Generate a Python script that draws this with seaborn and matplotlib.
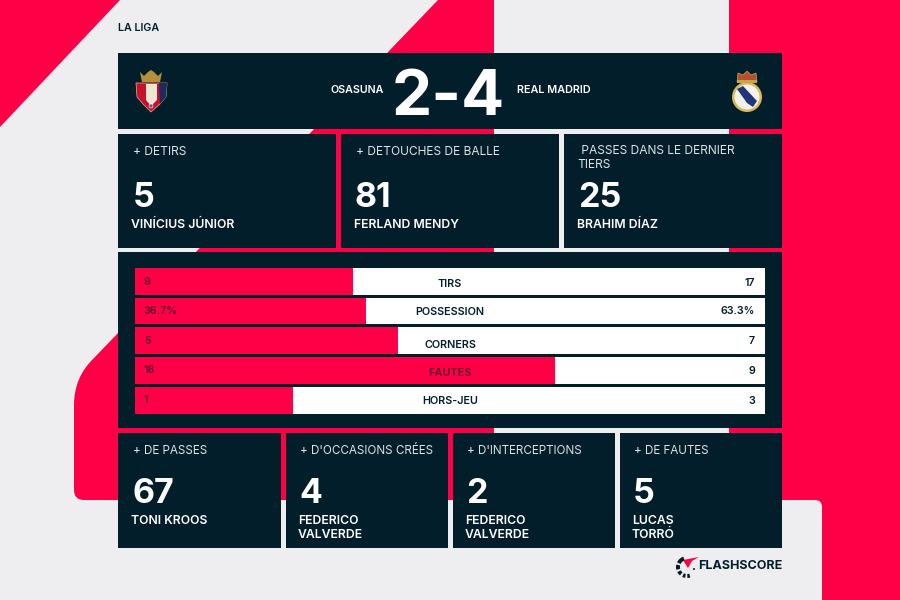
import matplotlib
matplotlib.use("Agg")
import matplotlib.pyplot as plt
import seaborn as sns
import pandas as pd
from matplotlib.patches import Rectangle, PathPatch, Polygon, Circle, Wedge
from matplotlib.path import Path

# ---------- data ----------
competition = "LA LIGA"
home_team = "OSASUNA"
away_team = "REAL MADRID"
score = "2-4"
stat_names = ["TIRS", "POSSESSION", "CORNERS", "FAUTES", "HORS-JEU"]
home_values = [9, 36.7, 5, 18, 1]
away_values = [17, 63.3, 7, 9, 3]
home_labels = ["9", "36.7%", "5", "18", "1"]
away_labels = ["17", "63.3%", "7", "9", "3"]
top_titles = ["+ DETIRS", "+ DETOUCHES DE BALLE", " PASSES DANS LE DERNIER\nTIERS"]
top_numbers = ["5", "81", "25"]
top_players = ["VINÍCIUS JÚNIOR", "FERLAND MENDY", "BRAHIM DÍAZ"]
bottom_titles = ["+ DE PASSES", "+ D'OCCASIONS CRÉES", "+ D'INTERCEPTIONS", "+ DE FAUTES"]
bottom_numbers = ["67", "4", "2", "5"]
bottom_players = ["TONI KROOS", "FEDERICO\nVALVERDE", "FEDERICO\nVALVERDE", "LUCAS\nTORRÓ"]

# ---------- style ----------
RED = "#FF0046"
NAVY = "#011E2A"
GREY = "#EEEEF0"
MAROON = "#6E0A33"
sns.set_theme(style="white")
plt.rcParams["font.family"] = ["Inter", "Lato", "DejaVu Sans"]

fig = plt.figure(figsize=(9, 6), dpi=100, facecolor=GREY)
W, H = 900, 600


def pixel_axes(z):
    a = fig.add_axes([0, 0, 1, 1], zorder=z)
    a.set_xlim(0, W)
    a.set_ylim(H, 0)
    a.axis("off")
    a.patch.set_alpha(0)
    return a


bg = pixel_axes(0)
top = pixel_axes(2)

# background shapes
bg.add_patch(Polygon([(0, 0), (120, 0), (0, 127)], fc=RED, ec="none"))
M, L, C, Z = Path.MOVETO, Path.LINETO, Path.CURVE3, Path.CLOSEPOLY
bg.add_patch(PathPatch(Path(
    [(438, 0), (494, 0), (494, 500), (84, 500), (74, 500), (74, 490), (74, 405), (74, 377), (94, 358), (438, 0)],
    [M, L, L, L, C, C, L, C, C, Z]), fc=RED, ec="none"))
bg.add_patch(PathPatch(Path(
    [(729, 0), (900, 0), (900, 600), (822, 600), (822, 507), (822, 500), (815, 500), (729, 500), (729, 0)],
    [M, L, L, L, L, C, C, L, Z]), fc=RED, ec="none"))

# panels
panels = [(118, 53, 782, 129), (118, 134, 336, 248), (341, 134, 559, 248), (564, 134, 782, 248),
          (118, 252, 782, 428), (118, 433, 281, 548), (286, 433, 448, 548), (453, 433, 615, 548), (620, 433, 782, 548)]
for x0, y0, x1, y1 in panels:
    bg.add_patch(Rectangle((x0, y0), x1 - x0, y1 - y0, fc=NAVY, ec="none"))

# ---------- stat bars ----------
stats = pd.DataFrame({"stat": stat_names, "home": home_values, "away": away_values})
stats["share"] = stats["home"] / (stats["home"] + stats["away"])
stats["total"] = 1.0
ax = fig.add_axes([135 / W, 1 - 413.5 / H, 630 / W, 145.5 / H], zorder=1)
sns.barplot(data=stats, x="total", y="stat", color="white", saturation=1, width=0.895, ax=ax, orient="h",
            linewidth=0, edgecolor="none")
sns.barplot(data=stats, x="share", y="stat", color=RED, saturation=1, width=0.895, ax=ax, orient="h",
            linewidth=0, edgecolor="none")
ax.set_xlim(0, 1)
ax.set_ylim(4.4475, -0.4475)
ax.axis("off")
ax.patch.set_alpha(0)

label_y = [284, 312, 344.5, 372.5, 401]
value_y = [282, 311, 341, 370, 400]
for i, name in enumerate(stat_names):
    over_red = stats["share"].iloc[i] * 630 + 135 > 450
    top.text(450, label_y[i], name, ha="center", va="center", fontsize=7.8,
             fontweight="bold" if over_red else "semibold", color=MAROON if over_red else NAVY)
    top.text(144, value_y[i], home_labels[i], ha="left", va="center", fontsize=7.6, fontweight="bold", color=MAROON)
    top.text(755, value_y[i] + 0.5, away_labels[i], ha="right", va="center", fontsize=7.7, fontweight="semibold", color=NAVY)

# ---------- header ----------
top.text(118, 28, competition, ha="left", va="center", fontsize=7.7, fontweight="semibold", color=NAVY)
top.text(384, 90, home_team, ha="right", va="center", fontsize=7.7, fontweight="semibold", color="white")
top.text(517, 90, away_team, ha="left", va="center", fontsize=7.8, fontweight="semibold", color="white")
top.text(448, 115, score, ha="center", va="baseline", fontsize=46, fontweight="bold", color="white")


# ---------- stat cards ----------
def card(x, title, title_size, number, player, title_y, base_y, player_y, player_dx, title_dx=0):
    top.text(x + title_dx, title_y, title, ha="left", va="center", fontsize=title_size, color="#DDE2E5", linespacing=1.22)
    top.text(x, base_y, number, ha="left", va="baseline", fontsize=24.5, fontweight="bold", color="white")
    top.text(x - player_dx, player_y, player, ha="left", va="top", fontsize=8.8, fontweight="semibold",
             color="white", linespacing=1.18)


top_x = [133, 355, 578]
top_title_dx = [0, 1, -0.5]
top_player_dx = [2, 1, 1]
for i in range(3):
    ty = 158 if "\n" in top_titles[i] else 152
    card(top_x[i], top_titles[i], 8.6, top_numbers[i], top_players[i], ty, 207, 219, top_player_dx[i], top_title_dx[i])
bottom_x = [132, 299, 466, 633]
for i in range(4):
    card(bottom_x[i], bottom_titles[i], 8.4, bottom_numbers[i], bottom_players[i], 451, 503, 515, 1, 1)

# ---------- crests (schematic) ----------
# Osasuna
top.add_patch(Polygon([(136, 83), (167, 83), (166, 97), (160, 104), (151, 112), (143, 104), (137, 97)], fc="#C8102E", ec="#D9C27A", lw=0.5))
top.add_patch(Polygon([(159, 83), (167, 83), (166, 97), (160, 104)], fc="#1D2A5C", ec="none"))
top.add_patch(Polygon([(146, 84), (157, 84), (157, 100), (151, 106), (146, 100)], fc="#F1E7D0", ec="none"))
top.add_patch(Polygon([(140, 72), (144, 76), (148, 72), (151, 70), (154, 72), (158, 76), (162, 72), (160, 82), (142, 82)], fc="#B58F3B", ec="none"))
top.add_patch(Circle((151, 106), 2, fc="#6C4A9E", ec="white", lw=0.4))
# Real Madrid
top.add_patch(Circle((747, 97), 15, fc="#D8B95B", ec="none"))
top.add_patch(Circle((747, 97), 12.5, fc="#F4F1E8", ec="none"))
top.add_patch(Polygon([(737, 89), (743, 86), (757, 101), (753, 107), (747, 103)], fc="#22347A", ec="none"))
top.add_patch(Polygon([(738, 73), (743, 75), (747, 71), (751, 75), (756, 73), (757, 82), (737, 82)], fc="#B5502F", ec="#C8A445", lw=0.5))
top.add_patch(Rectangle((737, 80), 20, 3, fc="#C8A445", ec="none"))

# ---------- Flashscore logo ----------
top.add_patch(Polygon([(683, 560), (699, 557), (692, 561), (688, 568), (686, 565)], fc=RED, ec="none"))
for start, wid in ((205, 45), (165, 28), (130, 22), (100, 16), (72, 16)):
    top.add_patch(Wedge((687, 567), 11, start, start + wid, width=4, fc=NAVY, ec="none"))
top.add_patch(Circle((694, 569), 1, fc=NAVY, ec="none"))
top.text(782, 566, "FLASHSCORE", ha="right", va="center", fontsize=9, fontweight="bold", color=NAVY)

fig.savefig("out.png", dpi=100, facecolor=GREY)
